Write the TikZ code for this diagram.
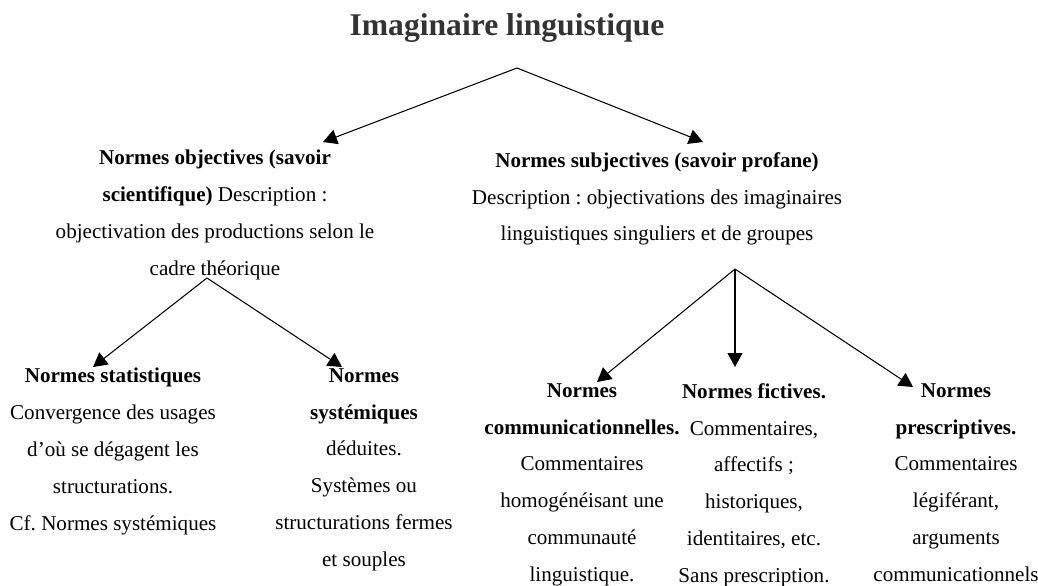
\documentclass[tikz,border=0pt]{standalone}
\usepackage{fontspec}
\setmainfont{Liberation Serif}
\frenchspacing
\usetikzlibrary{arrows.meta,calc}

\begin{document}
\begin{tikzpicture}[x=0.02cm, y=-0.02cm,
    bloc/.style={anchor=north, align=center, inner sep=0pt,
        font=\fontsize{12}{21}\selectfont},
    fleche/.style={-{Triangle[length=2.8mm,width=3mm]}, line width=0.6pt}]
    % --- CADRE ---
    \useasboundingbox (0,0) rectangle (1038,585);

    % --- TITRE ---
    \node[font=\fontsize{18}{22}\selectfont\bfseries, text=black!80] (titre) at (507,28) {Imaginaire linguistique};
    \coordinate (racine) at (517,68);

    % --- PREMIER NIVEAU ---
    \node[bloc] (objectives) at (215,150) {\textbf{Normes objectives (savoir}\\
        \textbf{scientifique)} Description :\\
        objectivation des productions selon le\\
        cadre théorique};
    \node[bloc] (subjectives) at (657,152) {\textbf{Normes subjectives (savoir profane)}\\
        Description : objectivations des imaginaires\\
        linguistiques singuliers et de groupes};

    % Points de départ des branches
    \coordinate (brancheObj) at (207,278);
    \coordinate (brancheSubj) at (735,269);

    % --- SECOND NIVEAU (gauche) ---
    \node[bloc] (statistiques) at (113,368) {\textbf{Normes statistiques}\\
        Convergence des usages\\ d’où se dégagent les\\ structurations.\\
        Cf. Normes systémiques};
    \node[bloc] (systemiques) at (364,368) {\textbf{Normes}\\ \textbf{systémiques}\\
        déduites.\\ Systèmes ou\\ structurations fermes\\ et souples};

    % --- SECOND NIVEAU (droite) ---
    \node[bloc] (communication) at (582,383) {\textbf{Normes}\\ \textbf{communicationnelles.}\\
        Commentaires\\ homogénéisant une\\ communauté\\ linguistique.};
    \node[bloc] (fictives) at (754,383) {\textbf{Normes fictives.}\\ Commentaires,\\
        affectifs ;\\ historiques,\\ identitaires, etc.\\ Sans prescription.};
    \node[bloc] (prescriptives) at (956,383) {\textbf{Normes}\\ \textbf{prescriptives.}\\
        Commentaires\\ légiférant,\\ arguments\\ communicationnels};

    % --- FLECHES ---
    \draw[fleche] (racine) -- ($(objectives.north)+(108,-8)$);
    \draw[fleche] (racine) -- ($(subjectives.north)+(46,-10)$);

    \draw[fleche] (brancheObj) -- ($(statistiques.north)+(-20,-1)$);
    \draw[fleche] (brancheObj) -- ($(systemiques.north)+(-22,-1)$);

    \draw[fleche] (brancheSubj) -- ($(communication.north)+(15,-1)$);
    \draw[fleche] (brancheSubj) -- ($(fictives.north)+(-19,-16)$);
    \draw[fleche] (brancheSubj) -- ($(prescriptives.north)+(-43,4)$);

\end{tikzpicture}
\end{document}
